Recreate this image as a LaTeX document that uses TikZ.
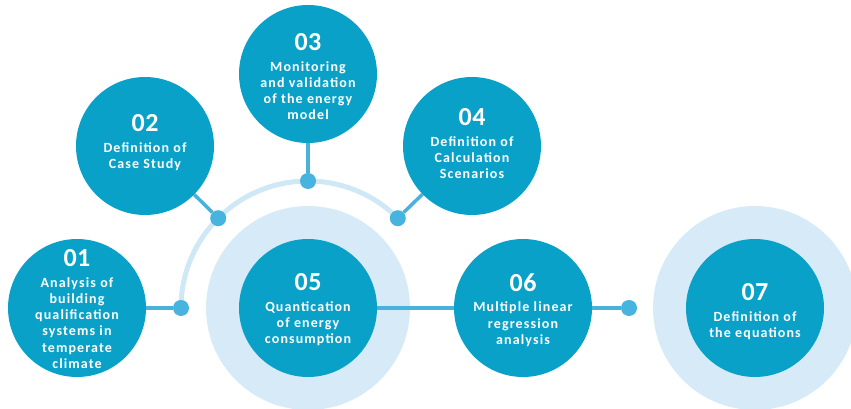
\documentclass[tikz,border=0pt]{standalone}
\usepackage{fontspec}
\usetikzlibrary{backgrounds}
\setmainfont{Carlito}[LetterSpace=8]
\newfontfamily\numberfont{Carlito}[LetterSpace=2]
\begin{document}
\begin{tikzpicture}[x=1pt,y=1pt,
  main/.style={circle,fill=stepblue,minimum size=138pt,inner sep=0pt},
  halo/.style={circle,fill=halolight,minimum size=204pt,inner sep=0pt},
  dot/.style={circle,fill=dotblue,minimum size=16pt,inner sep=0pt},
  link/.style={draw=linkblue,line width=3.5pt},
  caption/.style={text=white,align=center,anchor=north,inner sep=0pt,
    font=\bfseries\fontsize{14}{16.3}\selectfont},
]
\definecolor{stepblue}{RGB}{10,161,201}
\definecolor{halolight}{RGB}{214,235,247}
\definecolor{arclight}{RGB}{206,232,246}
\definecolor{dotblue}{RGB}{70,180,222}
\definecolor{linkblue}{RGB}{72,178,218}
\newcommand{\stepnum}[1]{{\numberfont\fontsize{26}{26}\selectfont #1}\\[4pt]}

\useasboundingbox (0,0) rectangle (851,409);
\clip (0,0) rectangle (851,409);

% step circles
\node[main] (c1) at (77,101) {};
\node[main] (c2) at (145,263) {};
\node[main] (c3) at (308,335) {};
\node[main] (c4) at (472,263) {};
\node[main] (c5) at (308,101) {};
\node[main] (c6) at (523,101) {};
\node[main] (c7) at (755,101) {};

% junction dots on the arc and after step 06
\node[dot] (d1) at (181,101) {};
\node[dot] (d2) at (218.2,190.8) {};
\node[dot] (d3) at (308,228) {};
\node[dot] (d4) at (397.8,190.8) {};
\node[dot] (d6) at (629,101) {};

\begin{scope}[on background layer]
  % light halos behind steps 05 and 07
  \node[halo] (h5) at (c5) {};
  \node[halo] (h7) at (c7) {};
  % guiding arc around step 05
  \draw[draw=arclight,line width=5pt] (d1.center) arc[start angle=180,end angle=45,radius=127];
  % connectors
  \path[link] (c1) -- (d1);
  \path[link] (c2) -- (d2);
  \path[link] (c3) -- (d3);
  \path[link] (c4) -- (d4);
  \path[link] (c5) -- (c6);
  \path[link] (c6) -- (d6);
\end{scope}

% captions
\node[caption] (t1) at ([yshift=58.5pt]c1.center) {\stepnum{01}Analysis of\\building\\qualification\\systems in\\temperate\\climate};
\node[caption] (t2) at ([yshift=31.5pt]c2.center) {\stepnum{02}Definition of\\Case Study};
\node[caption] (t3) at ([yshift=40.5pt]c3.center) {\stepnum{03}Monitoring\\and validation\\of the energy\\model};
\node[caption] (t4) at ([yshift=37.5pt]c4.center) {\stepnum{04}Definition of\\Calculation\\Scenarios};
\node[caption] (t5) at ([yshift=34.5pt]c5.center) {\stepnum{05}Quantication\\of energy\\consumption};
\node[caption] (t6) at ([yshift=34.5pt]c6.center) {\stepnum{06}Multiple linear\\regression\\analysis};
\node[caption] (t7) at ([yshift=24.5pt]c7.center) {\stepnum{07}Definition of\\the equations};
\end{tikzpicture}
\end{document}
